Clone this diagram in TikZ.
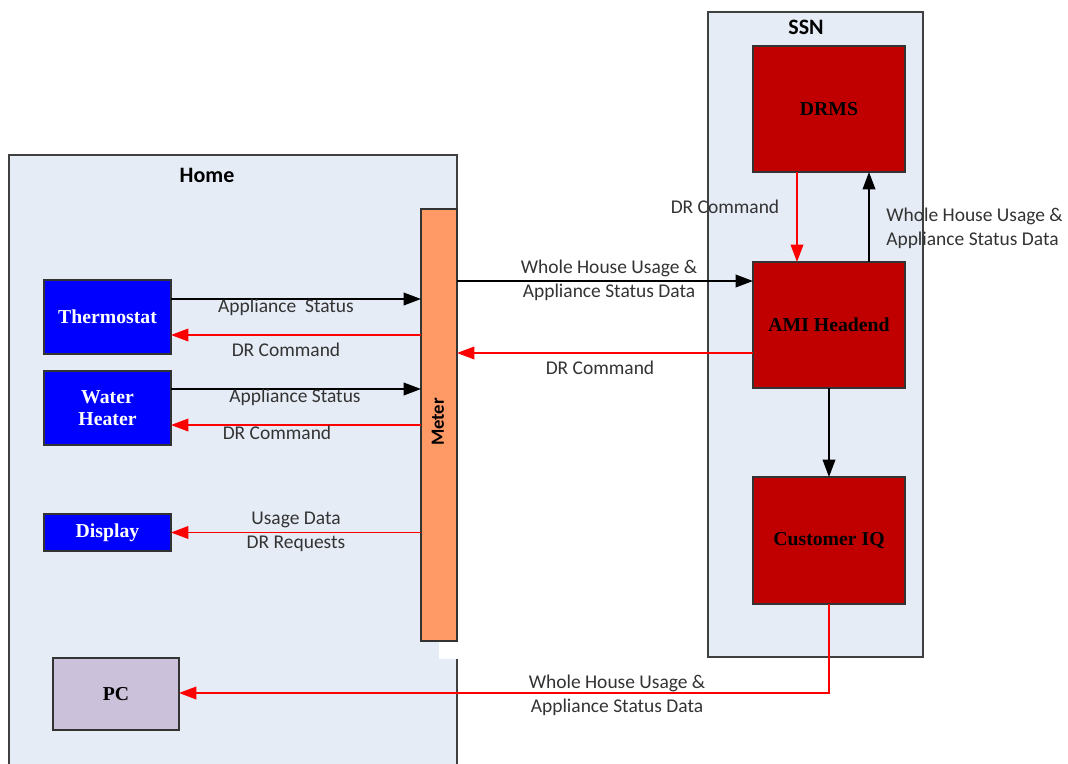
\documentclass[tikz,border=0pt]{standalone}
\usepackage{fontspec}
\usetikzlibrary{arrows.meta}
\newfontfamily\boxfont{Liberation Serif}
\newfontfamily\lblfont{Carlito}
\definecolor{bgblue}{HTML}{E6ECF6}
\definecolor{edgegray}{HTML}{404040}
\definecolor{devblue}{HTML}{0000FF}
\definecolor{ssnred}{HTML}{C00000}
\definecolor{meterorange}{HTML}{FF9966}
\definecolor{pclav}{HTML}{CCC1DA}
\definecolor{lbl}{HTML}{333333}
\definecolor{arrred}{HTML}{FF0000}
\tikzset{
  region/.style={draw=edgegray, line width=1.1pt, fill=bgblue, inner sep=0pt, outer sep=0pt},
  dev/.style={draw=black!80, line width=1.1pt, fill=devblue, text=white, inner sep=0pt, outer sep=0pt,
    font=\boxfont\bfseries\fontsize{14.8}{17}\selectfont, align=center, minimum width=95.25pt},
  srv/.style={draw=black!80, line width=1.1pt, fill=ssnred, text=black, inner sep=0pt, outer sep=0pt,
    font=\boxfont\bfseries\fontsize{14.8}{17}\selectfont, minimum width=114pt, minimum height=94.5pt},
  title/.style={font=\lblfont\bfseries\fontsize{16.5}{20}\selectfont, text=black},
  lab/.style={font=\lblfont\fontsize{14.6}{18}\selectfont, text=lbl, align=center, inner sep=0pt},
  labl/.style={font=\lblfont\fontsize{14.6}{18}\selectfont, text=lbl, align=left, inner sep=0pt, anchor=west},
  blk/.style={draw=black, line width=1.1pt, -{Triangle[length=13pt,width=9.5pt]}},
  redarr/.style={draw=arrred, line width=1.1pt, -{Triangle[length=13pt,width=9.5pt]}},
}
\begin{document}
\begin{tikzpicture}[x=0.75pt,y=-0.75pt]
\clip (0,0) rectangle (1068,764);
\fill[white] (0,0) rectangle (1068,764);

% Regions
\node[region, minimum width=336pt, minimum height=465pt] (home) at (233,465) {};
\node[title] (hometitle) at (207,175) {Home};
\node[region, minimum width=161.25pt, minimum height=483.75pt] (ssn) at (815.5,334.5) {};
\node[title] (ssntitle) at (806,27) {SSN};

% Meter
\node[draw=black!80, line width=1.1pt, fill=meterorange, inner sep=0pt, outer sep=0pt,
      minimum width=27pt, minimum height=324pt] (meter) at (439,425) {};
\fill[white] (438.5,641.8) rectangle (460,659);
\node[font=\lblfont\bfseries\fontsize{14}{16}\selectfont, rotate=90] (metertext) at (438,422) {Meter};

% Devices
\node[dev, minimum height=55.5pt] (therm) at (107.5,317) {Thermostat};
\node[dev, minimum height=55.5pt] (wh) at (107.5,408) {Water\\[-1pt]Heater};
\node[dev, minimum height=27.75pt] (disp) at (107.5,532.5) {Display};
\node[draw=black!80, line width=1.1pt, fill=pclav, inner sep=0pt, outer sep=0pt,
      minimum width=94.5pt, minimum height=54pt,
      font=\boxfont\bfseries\fontsize{14.8}{17}\selectfont] (pc) at (116,694) {PC};

% SSN servers
\node[srv] (drms) at (829,109) {DRMS};
\node[srv] (ami) at (829,325) {AMI Headend};
\node[srv, minimum height=95.25pt] (ciq) at (829,540.5) {Customer IQ};

% Home arrows
\draw[blk] (therm.east |- 0,299) -- (meter.west |- 0,299);
\node[lab] (l1) at (286,307) {Appliance\ \ Status};
\draw[redarr] (meter.west |- 0,335) -- (therm.east |- 0,335);
\node[lab] (l2) at (286,350) {DR Command};
\draw[blk] (wh.east |- 0,389) -- (meter.west |- 0,389);
\node[lab] (l3) at (295,397) {Appliance Status};
\draw[redarr] (meter.west |- 0,425) -- (wh.east |- 0,425);
\node[lab] (l4) at (277,433) {DR Command};
\draw[redarr] (meter.west |- disp.east) -- (disp.east);
\node[lab] (l5) at (296,532) {Usage Data\\DR Requests};

% Meter <-> AMI
\draw[blk] (meter.east |- 0,281) -- (ami.west |- 0,281);
\node[lab] (l6) at (609,280) {Whole House Usage \&\\Appliance Status Data};
\draw[redarr] (ami.west |- 0,353) -- (meter.east |- 0,353);
\node[lab] (l7) at (600,368) {DR Command};

% DRMS <-> AMI
\draw[redarr] (drms.south -| 797,0) -- (ami.north -| 797,0);
\node[lab] (l8) at (725,207) {DR Command};
\draw[blk] (ami.north -| 869,0) -- (drms.south -| 869,0);
\node[labl] (l9) at (886,228) {Whole House Usage \&\\Appliance Status Data};

% AMI -> Customer IQ
\draw[blk] (ami.south) -- (ciq.north);

% Customer IQ -> PC
\coordinate (bend) at (829,693);
\draw[redarr] (ciq.south) -- (bend) -- (pc.east |- bend);
\node[lab] (l10) at (617,695) {Whole House Usage \&\\Appliance Status Data};
\end{tikzpicture}
\end{document}
